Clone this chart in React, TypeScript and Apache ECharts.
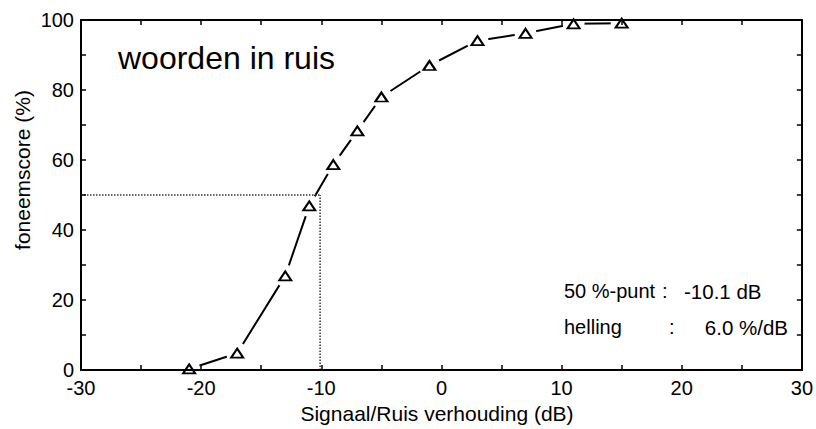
import React, { useEffect, useRef } from "react";
import * as echarts from "echarts";

const snrDb: number[] = [-21, -17, -13, -11, -9, -7, -5, -1, 3, 7, 11, 15];
const scorePct: number[] = [0.3, 4.8, 26.9, 46.9, 58.7, 68.3, 78, 87, 94.1, 96.2, 98.9, 99.1];
const pointFifty: number = -10.1;
const levelFifty: number = 50;
const xRange: number[] = [-30, 30];
const yRange: number[] = [0, 100];
const titleText = "woorden in ruis";
const xTitle = "Signaal/Ruis verhouding (dB)";
const yTitle = "foneemscore (%)";
const annotLabels: string[] = ["50 %-punt", "helling"];
const annotValues: string[] = ["-10.1 dB", "6.0 %/dB"];

const FONT = "'Liberation Sans', Arial, Helvetica, sans-serif";

export default function App() {
  const ref = useRef<HTMLDivElement>(null);
  useEffect(() => {
    if (!ref.current) return;
    const chart = echarts.init(ref.current, undefined, { renderer: "svg" });
    const pts = snrDb.map((x, i) => [x, scorePct[i]]);
    const axisLine = { show: true, onZero: false, lineStyle: { color: "#000", width: 2 } };
    const tick = { show: true, inside: true, length: 5, lineStyle: { color: "#000", width: 1.5 } };
    chart.setOption({
      animation: false,
      backgroundColor: "#fff",
      grid: { left: 81, right: 10, top: 20, bottom: 59, containLabel: false },
      xAxis: [
        {
          type: "value",
          min: xRange[0],
          max: xRange[1],
          interval: 5,
          position: "bottom",
          z: 10,
          axisLine,
          axisTick: tick,
          splitLine: { show: false },
          axisLabel: {
            color: "#000",
            fontSize: 20,
            fontFamily: FONT,
            margin: 8,
            formatter: (v: number) => (v % 10 === 0 ? String(v) : ""),
          },
        },
        {
          type: "value",
          min: xRange[0],
          max: xRange[1],
          interval: 5,
          position: "top",
          z: 10,
          axisLine,
          axisTick: tick,
          splitLine: { show: false },
          axisLabel: { show: false },
        },
      ],
      yAxis: [
        {
          type: "value",
          min: yRange[0],
          max: yRange[1],
          interval: 10,
          position: "left",
          z: 10,
          axisLine,
          axisTick: tick,
          splitLine: { show: false },
          axisLabel: {
            color: "#000",
            fontSize: 20,
            fontFamily: FONT,
            margin: 7,
            formatter: (v: number) => (v % 20 === 0 ? String(v) : ""),
          },
        },
        {
          type: "value",
          min: yRange[0],
          max: yRange[1],
          interval: 10,
          position: "right",
          z: 10,
          axisLine,
          axisTick: tick,
          splitLine: { show: false },
          axisLabel: { show: false },
        },
      ],
      series: [
        {
          type: "line",
          data: pts,
          symbol: "circle",
          symbolSize: 22,
          showSymbol: true,
          showAllSymbol: true,
          z: 2,
          silent: true,
          lineStyle: { color: "#000", width: 2 },
          itemStyle: { color: "#ffffff", borderWidth: 0, opacity: 1 },
        },
        {
          type: "line",
          data: [
            [xRange[0], levelFifty],
            [pointFifty, levelFifty],
          ],
          symbol: "none",
          z: 4,
          lineStyle: { color: "#333", width: 1.5, type: [1.5, 1.5] },
        },
        {
          type: "line",
          data: [
            [pointFifty, yRange[0]],
            [pointFifty, levelFifty],
          ],
          symbol: "none",
          z: 4,
          lineStyle: { color: "#333", width: 1.5, type: [1.5, 1.5] },
        },
        {
          type: "scatter",
          data: pts,
          symbol: "triangle",
          symbolSize: [12, 9],
          z: 5,
          itemStyle: { color: "#fff", borderColor: "#000", borderWidth: 2, opacity: 1 },
        },
      ],
      graphic: [
        {
          type: "text",
          x: 118,
          y: 58,
          style: { text: titleText, font: `32px ${FONT}`, fill: "#000", align: "left", verticalAlign: "middle" },
        },
        {
          type: "text",
          x: 22,
          y: 170,
          rotation: Math.PI / 2,
          style: { text: yTitle, font: `21px ${FONT}`, fill: "#000", align: "center", verticalAlign: "middle" },
        },
        {
          type: "text",
          x: 437,
          y: 413,
          style: { text: xTitle, font: `21px ${FONT}`, fill: "#000", align: "center", verticalAlign: "middle" },
        },
        {
          type: "text",
          x: 564,
          y: 291,
          style: { text: annotLabels[0], font: `20px ${FONT}`, fill: "#000", align: "left", verticalAlign: "middle" },
        },
        {
          type: "text",
          x: 662,
          y: 291,
          style: { text: ":", font: `20px ${FONT}`, fill: "#000", align: "left", verticalAlign: "middle" },
        },
        {
          type: "text",
          x: 684,
          y: 291,
          style: { text: annotValues[0], font: `20.5px ${FONT}`, fill: "#000", align: "left", verticalAlign: "middle" },
        },
        {
          type: "text",
          x: 564,
          y: 327,
          style: { text: annotLabels[1], font: `20px ${FONT}`, fill: "#000", align: "left", verticalAlign: "middle" },
        },
        {
          type: "text",
          x: 669,
          y: 327,
          style: { text: ":", font: `20px ${FONT}`, fill: "#000", align: "left", verticalAlign: "middle" },
        },
        {
          type: "text",
          x: 788,
          y: 327,
          style: { text: annotValues[1], font: `20.5px ${FONT}`, fill: "#000", align: "right", verticalAlign: "middle" },
        },
      ],
    });
    return () => chart.dispose();
  }, []);
  return (
    <div
      ref={ref}
      style={{ position: "fixed", left: 0, top: 0, width: 816, height: 429, background: "#fff" }}
    />
  );
}
